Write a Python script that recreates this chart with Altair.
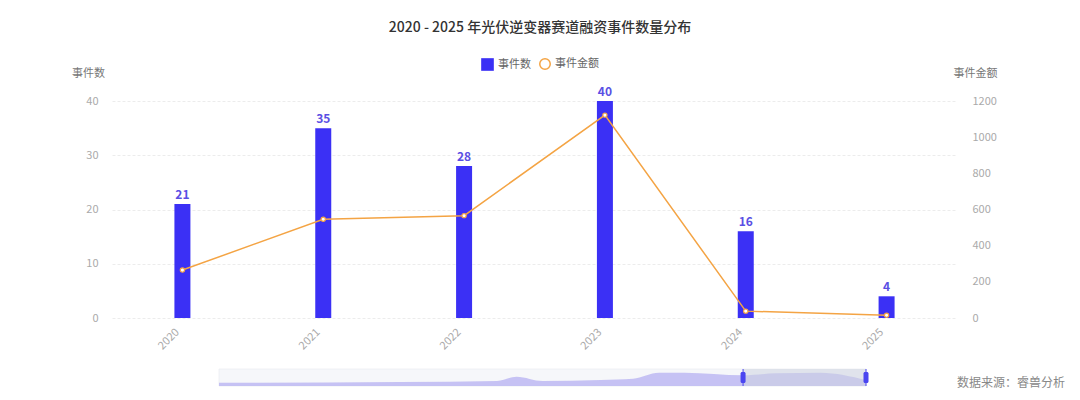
import altair as alt
import pandas as pd

years = ["2020", "2021", "2022", "2023", "2024", "2025"]
counts = [21, 35, 28, 40, 16, 4]
amounts = [265, 546, 566, 1122, 38, 15]

slider_pos = [0.0, 0.28, 0.43, 0.46, 0.50, 0.59, 0.64, 0.68, 0.72, 0.81, 0.86, 0.93, 1.0]
slider_val = [3.3, 4.0, 5.0, 9.3, 5.0, 6.0, 7.3, 13.3, 13.3, 10.7, 12.7, 13.3, 6.0]
window_start = [0.81]
window_end = [1.0]

title_text = "2020 - 2025 年光伏逆变器赛道融资事件数量分布"
source_text = "数据来源：睿兽分析"

BAR = "#3b30f5"
LABEL = "#5a4fe4"
ORANGE = "#f4a444"
FONT = "Noto Sans CJK SC"

df = pd.DataFrame({"year": years, "count": counts, "amount": amounts})
df["s1"] = "事件数"
df["s2"] = "事件金额"

W, H = 845, 217

xscale = alt.Scale(domain=years, paddingInner=0, paddingOuter=0)

bars = alt.Chart(df).mark_bar(size=16).encode(
    x=alt.X("year:N", scale=xscale, sort=years,
            axis=alt.Axis(title=None, labelAngle=-45, labelColor="#aaaaaa", labelFontSize=11,
                          domain=False, ticks=False, grid=False, labelPadding=8,
                          labelOffset=-9)),
    y=alt.Y("count:Q", scale=alt.Scale(domain=[0, 40]),
            axis=alt.Axis(values=[0, 10, 20, 30, 40], title="事件数", titleAngle=0,
                          titleX=-24, titleY=-28, titleAlign="center", titleBaseline="middle",
                          titleColor="#777777", titleFontSize=11, titleFontWeight="normal",
                          labelColor="#aaaaaa", labelFontSize=11, labelPadding=14,
                          domain=False, ticks=False, grid=True, gridColor="#ececec",
                          gridDash=[3, 2])),
    fill=alt.Fill("s1:N", scale=alt.Scale(domain=["事件数"], range=[BAR]),
                  legend=alt.Legend(title=None, orient="none", legendX=369, legendY=-43,
                                    symbolType="square", symbolSize=160, labelFontSize=11,
                                    labelColor="#666666", symbolStrokeWidth=0)),
)

labels = alt.Chart(df).mark_text(dy=-9, fontSize=12, fontWeight="bold", color=LABEL).encode(
    x=alt.X("year:N", scale=xscale, sort=years, axis=None),
    y=alt.Y("count:Q", scale=alt.Scale(domain=[0, 40]), axis=None),
    text="count:Q",
)

line = alt.Chart(df).mark_line(strokeWidth=1.5).encode(
    x=alt.X("year:N", scale=xscale, sort=years, axis=None),
    y=alt.Y("amount:Q", scale=alt.Scale(domain=[0, 1200]),
            axis=alt.Axis(orient="right", values=[0, 200, 400, 600, 800, 1000, 1200],
                          format="d",
                          title="事件金额", titleAngle=0, titleX=18, titleY=-28,
                          titleAlign="center", titleBaseline="middle", titleColor="#777777",
                          titleFontSize=11, titleFontWeight="normal",
                          labelColor="#aaaaaa", labelFontSize=11, labelPadding=15,
                          domain=False, ticks=False, grid=False)),
    stroke=alt.Stroke("s2:N", scale=alt.Scale(domain=["事件金额"], range=[ORANGE]),
                      legend=alt.Legend(title=None, orient="none", legendX=427, legendY=-43,
                                        symbolType="circle", symbolSize=110,
                                        symbolFillColor="white", symbolStrokeWidth=1.5,
                                        labelFontSize=11, labelColor="#666666")),
)

points = alt.Chart(df).mark_point(shape="circle", size=18, filled=True, fill="white",
                                  stroke=ORANGE, strokeWidth=1.2, opacity=1).encode(
    x=alt.X("year:N", scale=xscale, sort=years, axis=None),
    y=alt.Y("amount:Q", scale=alt.Scale(domain=[0, 1200]), axis=None),
)

title = alt.Chart(pd.DataFrame({"t": [title_text]})).mark_text(
    fontSize=14, color="#333333", fontWeight=500, align="center", baseline="middle", font=FONT
).encode(text="t:N", x=alt.value(428), y=alt.value(-73))

source = alt.Chart(pd.DataFrame({"t": [source_text]})).mark_text(
    fontSize=12, color="#888888", align="right", baseline="middle", font=FONT
).encode(text="t:N", x=alt.value(953), y=alt.value(282))

# slider
sx = alt.Scale(domain=[0, 1], range=[107, 754])
sy = alt.Scale(domain=[0, 17], range=[285, 268])

track = alt.Chart(pd.DataFrame({"a": [0.0], "b": [1.0]})).mark_rect(
    fill="#f6f7fa", stroke="#eceef3", strokeWidth=0.8).encode(
    x=alt.X("a:Q", scale=sx, axis=None), x2="b:Q",
    y=alt.value(268), y2=alt.value(285))

sdf = pd.DataFrame({"pos": slider_pos, "val": slider_val})
shadow = alt.Chart(sdf).mark_area(interpolate="monotone", color="#bdb8f2", opacity=0.85).encode(
    x=alt.X("pos:Q", scale=sx, axis=None),
    y=alt.Y("val:Q", scale=sy, axis=None),
)

wdf = pd.DataFrame({"a": window_start, "b": window_end})
window = alt.Chart(wdf).mark_rect(fill="#cdd3e0", opacity=0.55).encode(
    x=alt.X("a:Q", scale=sx, axis=None), x2="b:Q",
    y=alt.value(268), y2=alt.value(285))

hdf = pd.DataFrame({"pos": window_start + window_end})
hline = alt.Chart(hdf).mark_rule(color="#4a45f0", strokeWidth=1).encode(
    x=alt.X("pos:Q", scale=sx, axis=None), y=alt.value(268), y2=alt.value(285))
handles = alt.Chart(hdf).mark_tick(orient="vertical", thickness=5, size=11, color="#4a45f0",
                                   cornerRadius=1.5, opacity=1).encode(
    x=alt.X("pos:Q", scale=sx, axis=None), y=alt.value(276.5))

chart = alt.layer(
    track, shadow, window, hline, handles,
    bars, labels, line, points, title, source
).resolve_scale(
    x="independent", y="independent", fill="independent", stroke="independent"
).properties(
    width=W, height=H,
    autosize=alt.AutoSizeParams(type="none"),
    padding={"left": 104, "top": 93, "right": 115, "bottom": 74},
).configure(
    font=FONT,
).configure_view(stroke=None)

chart.save("out.html", embed_options={"renderer": "svg", "actions": False})
